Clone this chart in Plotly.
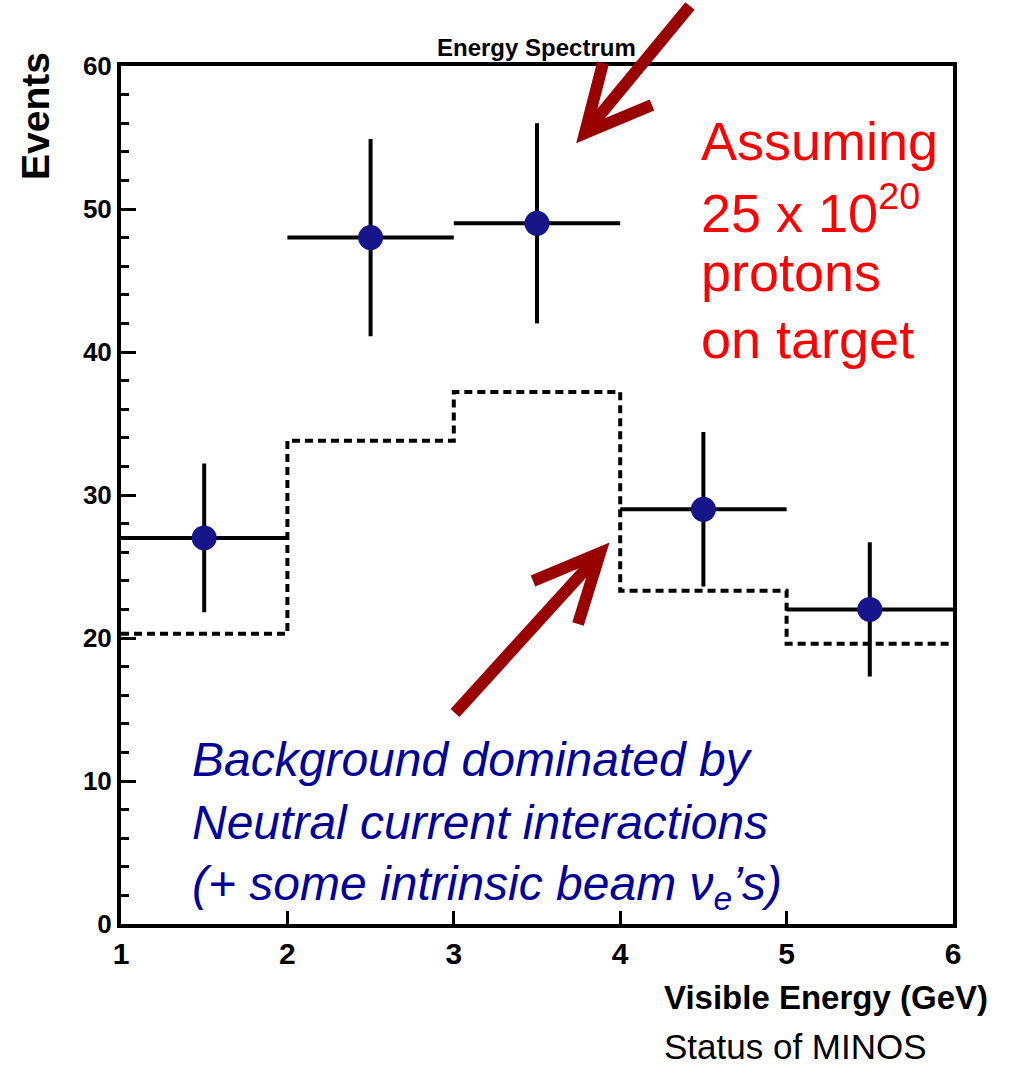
import plotly.graph_objects as go

# ---- data ----
bin_edges = [1, 2, 3, 4, 5, 6]
bin_centers = [1.5, 2.5, 3.5, 4.5, 5.5]
events = [27, 48, 49, 29, 22]
event_err = [5.2, 6.9, 7.0, 5.4, 4.7]
bin_halfwidth = [0.5, 0.5, 0.5, 0.5, 0.5]
background = [20.3, 33.8, 37.2, 23.3, 19.6]
x_ticks = [1, 2, 3, 4, 5, 6]
y_ticks = [0, 10, 20, 30, 40, 50, 60]

W, H = 1010, 1067
ML, MR, MT, MB = 121, 57, 66, 143
PW, PH = W - ML - MR, H - MT - MB


def px(x):
    return (x - ML) / PW


def py(y):
    return (H - MB - y) / PH


fig = go.Figure()

# background (dashed step histogram)
fig.add_trace(go.Scatter(
    x=bin_edges, y=background + [background[-1]],
    mode="lines", line=dict(shape="hv", color="black", width=4, dash="8px,5px"),
    showlegend=False, hoverinfo="skip"))

# data points with error bars
fig.add_trace(go.Scatter(
    x=bin_centers, y=events, mode="markers",
    marker=dict(size=25, color="#16168a", line=dict(width=0)),
    error_y=dict(type="data", array=event_err, color="black", thickness=4, width=0),
    error_x=dict(type="data", array=bin_halfwidth, color="black", thickness=4, width=0),
    showlegend=False))

FONT = "Liberation Sans, Arial, sans-serif"

fig.update_layout(
    width=W, height=H, autosize=False,
    margin=dict(l=ML, r=MR, t=MT, b=MB),
    paper_bgcolor="white", plot_bgcolor="white",
    font=dict(family=FONT, color="black"),
    xaxis=dict(range=[1, 6], tickvals=x_ticks, ticks="inside", ticklen=13, tickwidth=3,
               tickcolor="black", showline=True, linewidth=4, linecolor="black",
               mirror=True, showgrid=False, zeroline=False,
               tickfont=dict(size=30, weight="bold", family=FONT)),
    yaxis=dict(range=[0, 60], tickvals=y_ticks, ticks="inside", ticklen=15, tickwidth=3,
               tickcolor="black", showline=True, linewidth=4, linecolor="black",
               mirror=True, showgrid=False, zeroline=False,
               tickfont=dict(size=26, weight="bold", family=FONT),
               minor=dict(dtick=2, ticks="inside", ticklen=8, tickwidth=3, tickcolor="black",
                          showgrid=False)),
)

ann = []
ann.append(dict(text="Energy Spectrum", x=px(536), y=py(48), xref="paper", yref="paper",
                xanchor="center", yanchor="middle",
                showarrow=False, font=dict(size=24, weight="bold")))
ann.append(dict(text="Events", x=px(35), y=py(116), xref="paper", yref="paper",
                xanchor="center", yanchor="middle",
                showarrow=False, textangle=-90, font=dict(size=39, weight="bold")))
ann.append(dict(text="Visible Energy (GeV)", x=px(990), y=py(997), xref="paper", yref="paper",
                xanchor="right", yanchor="middle", showarrow=False,
                font=dict(size=33, weight="bold")))
ann.append(dict(text="Status of MINOS", x=px(662), y=py(1046), xref="paper", yref="paper",
                xanchor="left", yanchor="middle", showarrow=False, font=dict(size=35)))

red_lines = ["Assuming", "25 x 10<sup>20</sup>", "protons", "on target"]
red_y = [141, 209, 272, 339]
for t, yy in zip(red_lines, red_y):
    ann.append(dict(text=t, x=px(699), y=py(yy), xref="paper", yref="paper",
                    xanchor="left", yanchor="middle", showarrow=False,
                    font=dict(size=54, color="#ff0000")))

blue_lines = ["Background dominated by", "Neutral current interactions",
              "(+ some intrinsic beam ν<sub>e</sub>’s)"]
blue_y = [759, 822, 887]
for t, yy in zip(blue_lines, blue_y):
    ann.append(dict(text=t, x=px(190), y=py(yy), xref="paper", yref="paper",
                    xanchor="left", yanchor="middle", showarrow=False,
                    font=dict(size=48, color="#000099", style="italic")))
fig.update_layout(annotations=ann)

# decorative arrows
ARROW = "#990000"


def seg(x0, y0, x1, y1):
    return dict(type="line", xref="paper", yref="paper",
                x0=px(x0), y0=py(y0), x1=px(x1), y1=py(y1),
                line=dict(color=ARROW, width=12))


def chevron(a, tip, b):
    path = "M {} {} L {} {} L {} {}".format(px(a[0]), py(a[1]), px(tip[0]), py(tip[1]),
                                           px(b[0]), py(b[1]))
    return dict(type="path", xref="paper", yref="paper", path=path,
                line=dict(color=ARROW, width=12))


shapes = [
    seg(690, 6, 590, 127),
    chevron((603, 63), (585, 133), (652, 105)),
    seg(455, 713, 595, 559),
    chevron((533, 581), (600, 553), (578, 624)),
]
fig.update_layout(shapes=shapes)

fig.write_html("out.html")
